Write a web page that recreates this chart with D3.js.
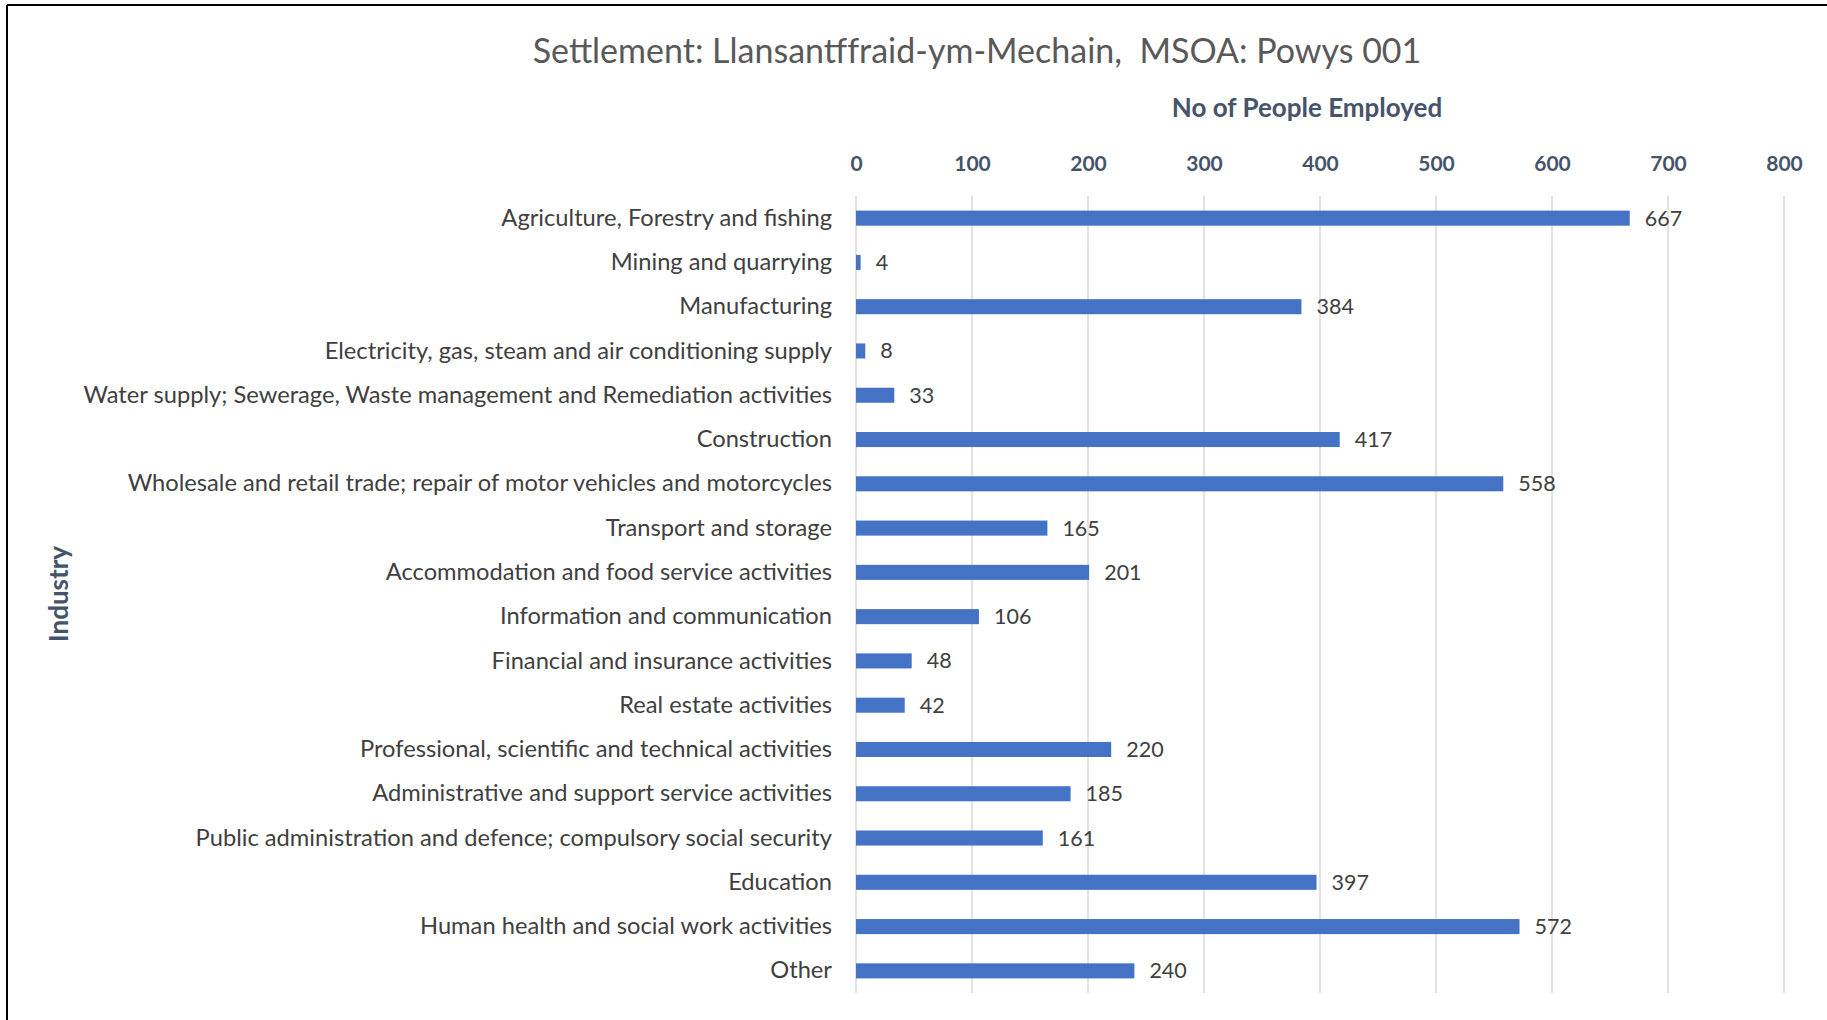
<!DOCTYPE html>
<html lang="en">
  <head>
    <title>Llansantffraid-ym-Mechain employment</title>
    <script src="https://cdn.jsdelivr.net/npm/d3@7"></script>
    <style>
      body { margin: 0; background-color: white; }
    </style>
  </head>

  <body>
    <div id="container"></div>
  </body>

<script>
    const industries = [
      "Agriculture, Forestry and fishing",
      "Mining and quarrying",
      "Manufacturing",
      "Electricity, gas, steam and air conditioning supply",
      "Water supply; Sewerage, Waste management and Remediation activities",
      "Construction",
      "Wholesale and retail trade; repair of motor vehicles and motorcycles",
      "Transport and storage",
      "Accommodation and food service activities",
      "Information and communication",
      "Financial and insurance activities",
      "Real estate activities",
      "Professional, scientific and technical activities",
      "Administrative and support service activities",
      "Public administration and defence; compulsory social security",
      "Education",
      "Human health and social work activities",
      "Other"
    ];
    const employed = [667, 4, 384, 8, 33, 417, 558, 165, 201, 106, 48, 42, 220, 185, 161, 397, 572, 240];
    const xTicks = [0, 100, 200, 300, 400, 500, 600, 700, 800];

    const W = 1827, H = 1020;
    const margin = {top: 196, right: 43, bottom: 27, left: 856};
    const width = W - margin.left - margin.right;
    const height = H - margin.top - margin.bottom;
    const font = "Lato, 'Open Sans', sans-serif";

    const svg = d3.select("#container").append("svg")
      .attr("width", W)
      .attr("height", H);

    // frame (only top and left edges show in the original)
    svg.append("line").attr("x1", 7).attr("x2", W).attr("y1", 5).attr("y2", 5)
      .attr("stroke", "black").attr("stroke-width", 2);
    svg.append("line").attr("x1", 7).attr("x2", 7).attr("y1", 5).attr("y2", H)
      .attr("stroke", "black").attr("stroke-width", 2);

    svg.append("text")
      .attr("x", 977).attr("y", 63)
      .attr("text-anchor", "middle")
      .style("font", `34px ${font}`)
      .attr("fill", "#595959")
      .text("Settlement: Llansantffraid-ym-Mechain,\u00A0 MSOA: Powys 001");

    const g = svg.append("g")
      .attr("transform", `translate(${margin.left}, ${margin.top})`);

    const x = d3.scaleLinear().domain([0, 800]).range([0, width]);
    const y = d3.scaleBand().domain(industries).range([0, height]).paddingInner(0.66).paddingOuter(0.33);

    // gridlines
    g.append("g")
      .selectAll("line")
      .data(xTicks)
      .enter().append("line")
        .attr("x1", d => x(d)).attr("x2", d => x(d))
        .attr("y1", 0).attr("y2", height)
        .attr("stroke", "#d9d9d9").attr("stroke-width", 1.5);

    // top axis
    const xAxis = g.append("g")
      .call(d3.axisTop(x).tickValues(xTicks).tickSize(0).tickPadding(25));
    xAxis.select(".domain").remove();
    xAxis.selectAll("text")
      .style("font", `bold 21px ${font}`)
      .attr("fill", "#44546A");

    // category axis
    const yAxis = g.append("g")
      .call(d3.axisLeft(y).tickSize(0).tickPadding(24));
    yAxis.select(".domain").remove();
    yAxis.selectAll("text")
      .style("font", `23.7px ${font}`)
      .attr("fill", "#404040");

    g.append("g")
      .selectAll("rect")
      .data(employed)
      .enter().append("rect")
        .attr("x", x(0))
        .attr("y", (d, i) => y(industries[i]))
        .attr("width", d => x(d) - x(0))
        .attr("height", y.bandwidth())
        .attr("fill", "#4472C4");

    g.append("g")
      .selectAll("text")
      .data(employed)
      .enter().append("text")
        .attr("x", d => x(d) + 15)
        .attr("y", (d, i) => y(industries[i]) + y.bandwidth() / 2)
        .attr("dy", "0.35em")
        .style("font", `21.5px ${font}`)
        .attr("fill", "#404040")
        .text(d => d);

    svg.append("text")
      .attr("x", 1307).attr("y", 117)
      .attr("text-anchor", "middle")
      .style("font", `bold 26px ${font}`)
      .attr("fill", "#44546A")
      .text("No of People Employed");

    svg.append("text")
      .attr("transform", "translate(68, 594) rotate(-90)")
      .attr("text-anchor", "middle")
      .style("font", `bold 26px ${font}`)
      .attr("fill", "#44546A")
      .text("Industry");
</script>
</html>
